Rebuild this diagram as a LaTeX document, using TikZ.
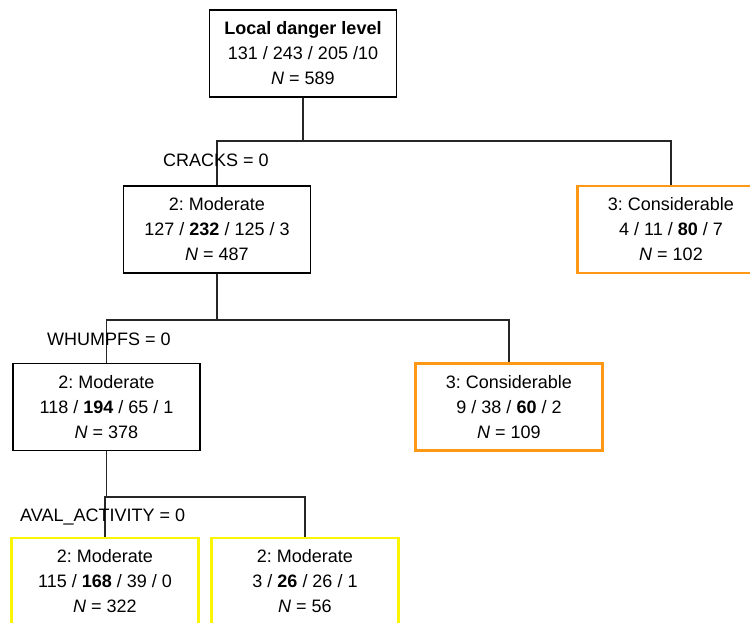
\documentclass[tikz,border=0pt]{standalone}
\usepackage{fontspec}
\setmainfont{Liberation Sans}
\definecolor{orng}{RGB}{255,152,20}
\definecolor{yllw}{RGB}{250,245,0}
\frenchspacing
\begin{document}
\begin{tikzpicture}[x=1pt,y=-1pt,
  box/.style={draw=black,line width=1.4pt,minimum width=187pt,minimum height=87pt,
    align=center,inner sep=0pt,font=\fontsize{18}{25}\selectfont},
  obox/.style={box,draw=orng,line width=2.2pt},
  ybox/.style={box,draw=yllw,line width=2.2pt},
  conn/.style={line width=1.2pt,draw=black!85},
  lbl/.style={anchor=west,inner sep=0pt,font=\fontsize{18}{25}\selectfont}]
\useasboundingbox (0,0) rectangle (750,622);
\node[box] (root) at (303,53.5) {\textbf{Local danger level}\\131 / 243 / 205 /10\\\textit{N} = 589};
\node[box] (m1) at (217,229.5) {2: Moderate\\127 / \textbf{232} / 125 / 3\\\textit{N} = 487};
\node[obox] (c1) at (671,229.5) {3: Considerable\\4 / 11 / \textbf{80} / 7\\\textit{N} = 102};
\node[box] (m2) at (106.5,407) {2: Moderate\\118 / \textbf{194} / 65 / 1\\\textit{N} = 378};
\node[obox] (c2) at (509,407) {3: Considerable\\9 / 38 / \textbf{60} / 2\\\textit{N} = 109};
\node[ybox] (m3) at (105,581.5) {2: Moderate\\115 / \textbf{168} / 39 / 0\\\textit{N} = 322};
\node[ybox] (m4) at (305,581.5) {2: Moderate\\3 / \textbf{26} / 26 / 1\\\textit{N} = 56};
\coordinate (j1) at (303,141);
\coordinate (j2) at (217,320);
\coordinate (j3) at (106.5,497);
\draw[conn] (root.south) -- (j1);
\draw[conn] (m1.north) |- (j1) -| (c1.north);
\draw[conn] (m1.south) -- (j2);
\draw[conn] (m2.north) |- (j2) -| (c2.north);
\draw[conn] (m2.south) -- (j3);
\draw[conn] (m3.north) |- (j3) -| (m4.north);
\node[lbl] (l1) at (163,160) {CRACKS = 0};
\node[lbl] (l2) at (47,339) {WHUMPFS = 0};
\node[lbl] (l3) at (20,517) {AVAL\_ACTIVITY = 0};
\end{tikzpicture}
\end{document}
